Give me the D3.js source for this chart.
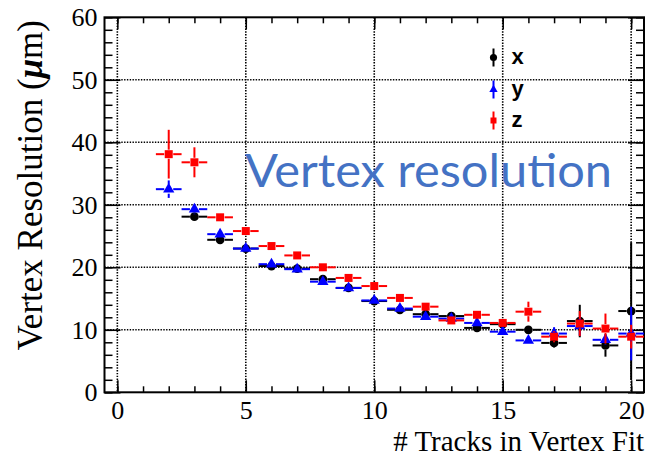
<!DOCTYPE html>
<html>
<head>
<meta charset="utf-8">
<script src="https://cdn.jsdelivr.net/npm/d3@7"></script>
<style>
  body { margin: 0; background: #fff; }
  svg { display: block; }
</style>
</head>
<body>
<div id="chart_div"></div>
<script>
/*************************************************
 * Description: vertex resolution vs track count *
 *************************************************/

/*
 * Data
 */
var gvTracksX = [3, 4, 5, 6, 7, 8, 9, 10, 11, 12, 13, 14, 15, 16, 17, 18, 19, 20];
var gvResX    = [28.1, 24.4, 23.0, 20.2, 19.8, 18.1, 16.7, 14.6, 13.2, 12.5, 12.2, 10.3, 10.9, 10.0, 7.9, 11.4, 7.5, 13.0];
var gvErrX    = [0.3, 0.3, 0.3, 0.3, 0.3, 0.3, 0.3, 0.3, 0.3, 0.3, 0.3, 0.4, 0.4, 0.7, 0.8, 2.6, 1.8, 11.0];

var gvTracksY = [2, 3, 4, 5, 6, 7, 8, 9, 10, 11, 12, 13, 14, 15, 16, 17, 18, 19, 20];
var gvResY    = [32.5, 29.3, 25.3, 23.0, 20.5, 19.7, 17.7, 16.7, 14.7, 13.4, 12.1, 11.8, 11.1, 9.7, 8.3, 9.4, 10.6, 8.4, 9.4];
var gvErrY    = [1.4, 0.8, 0.4, 0.3, 0.3, 0.3, 0.3, 0.3, 0.3, 0.3, 0.3, 0.3, 0.4, 0.4, 0.6, 1.0, 1.5, 0.8, 4.3];

var gvTracksZ = [2, 3, 4, 5, 6, 7, 8, 9, 10, 11, 12, 13, 14, 15, 16, 17, 18, 19, 20];
var gvResZ    = [38.1, 36.8, 28.0, 25.8, 23.4, 21.9, 20.0, 18.3, 17.0, 15.1, 13.7, 11.5, 12.4, 11.1, 12.9, 8.9, 11.0, 10.2, 8.9];
var gvErrZ    = [3.9, 2.4, 0.6, 0.6, 0.4, 0.4, 0.4, 0.4, 0.5, 0.5, 0.5, 0.4, 0.6, 0.7, 1.6, 0.9, 2.0, 2.4, 1.9];

var gvXMajor = [0, 5, 10, 15, 20];
var gvYMajor = [0, 10, 20, 30, 40, 50, 60];
var gvLegend = ['x', 'y', 'z'];

/*
 * Layout
 */
var gvWidth = 646, gvHeight = 458;
var gvFrame = {left: 104.5, right: 644, top: 17.3, bottom: 392.3};
var gvSerif = '"Liberation Serif", "Times New Roman", serif';

var svg = d3.select('#chart_div').append('svg')
  .attr('width', gvWidth)
  .attr('height', gvHeight);

var xScale = d3.scaleLinear().domain([-0.5, 20.5]).range([gvFrame.left, gvFrame.right]);
var yScale = d3.scaleLinear().domain([0, 60]).range([gvFrame.bottom, gvFrame.top]);

/*
 * Grid (dotted)
 */
var grid = svg.append('g')
  .attr('stroke', '#000')
  .attr('stroke-width', 1.6)
  .attr('stroke-dasharray', '1.4,1.4');

grid.selectAll('.gx').data(gvXMajor).enter().append('line')
  .attr('x1', function(d) { return xScale(d); })
  .attr('x2', function(d) { return xScale(d); })
  .attr('y1', gvFrame.top)
  .attr('y2', gvFrame.bottom);

grid.selectAll('.gy').data(gvYMajor.slice(1, -1)).enter().append('line')
  .attr('x1', gvFrame.left)
  .attr('x2', gvFrame.right)
  .attr('y1', function(d) { return yScale(d); })
  .attr('y2', function(d) { return yScale(d); });

/*
 * Axes
 */
var xMinor = d3.range(0, 21, 1);
var yMinor = d3.range(0, 61, 2);

function addAxis(pvAxis, pvTransform, pvLabels) {
  var g = svg.append('g')
    .attr('transform', pvTransform)
    .call(pvAxis);
  g.select('.domain').remove();
  g.selectAll('line').attr('stroke', '#000').attr('stroke-width', 1.5);
  g.selectAll('text')
    .attr('fill', '#000')
    .style('font-family', gvSerif)
    .style('font-size', '26px');
  if (!pvLabels) g.selectAll('text').remove();
  return g;
}

// bottom
addAxis(d3.axisBottom(xScale).tickValues(xMinor).tickSize(-6).tickFormat(''),
  'translate(0,' + gvFrame.bottom + ')', false);
addAxis(d3.axisBottom(xScale).tickValues(gvXMajor).tickSize(-12).tickPadding(8).tickFormat(d3.format('d')),
  'translate(0,' + gvFrame.bottom + ')', true);
// top
addAxis(d3.axisTop(xScale).tickValues(xMinor).tickSize(-6).tickFormat(''),
  'translate(0,' + gvFrame.top + ')', false);
addAxis(d3.axisTop(xScale).tickValues(gvXMajor).tickSize(-12).tickFormat(''),
  'translate(0,' + gvFrame.top + ')', false);
// left
addAxis(d3.axisLeft(yScale).tickValues(yMinor).tickSize(-8).tickFormat(''),
  'translate(' + gvFrame.left + ',0)', false);
addAxis(d3.axisLeft(yScale).tickValues(gvYMajor).tickSize(-16).tickPadding(7).tickFormat(d3.format('d')),
  'translate(' + gvFrame.left + ',0)', true);
// right
addAxis(d3.axisRight(yScale).tickValues(yMinor).tickSize(-8).tickFormat(''),
  'translate(' + gvFrame.right + ',0)', false);
addAxis(d3.axisRight(yScale).tickValues(gvYMajor).tickSize(-16).tickFormat(''),
  'translate(' + gvFrame.right + ',0)', false);

// frame
svg.append('rect')
  .attr('x', gvFrame.left)
  .attr('y', gvFrame.top)
  .attr('width', gvFrame.right - gvFrame.left)
  .attr('height', gvFrame.bottom - gvFrame.top)
  .attr('fill', 'none')
  .attr('stroke', '#000')
  .attr('stroke-width', 2);

/*
 * Series
 */
var symCircle = d3.symbol().type(d3.symbolCircle).size(60);
var symTriangle = d3.symbol().type(d3.symbolTriangle).size(55);
var symSquare = d3.symbol().type(d3.symbolSquare).size(64);

function drawSeries(pvTracks, pvRes, pvErr, pvColour, pvSymbol) {

  var lvGap = 4.5;
  var lvData = pvTracks.map(function(t, i) {
    return {t: t, v: pvRes[i], e: pvErr[i]};
  });

  var g = svg.append('g')
    .attr('stroke', pvColour)
    .attr('stroke-width', 2)
    .attr('fill', pvColour);

  var pts = g.selectAll('.pt').data(lvData).enter().append('g')
    .attr('class', 'pt');

  // horizontal error (bin width), split around the marker
  pts.append('line')
    .attr('x1', function(d) { return xScale(d.t - 0.5); })
    .attr('x2', function(d) { return xScale(d.t) - lvGap; })
    .attr('y1', function(d) { return yScale(d.v); })
    .attr('y2', function(d) { return yScale(d.v); });
  pts.append('line')
    .attr('x1', function(d) { return xScale(d.t) + lvGap; })
    .attr('x2', function(d) { return xScale(d.t + 0.5); })
    .attr('y1', function(d) { return yScale(d.v); })
    .attr('y2', function(d) { return yScale(d.v); });

  // vertical error
  pts.filter(function(d) { return yScale(d.v - d.e) - yScale(d.v) > lvGap; })
    .each(function(d) {
      var s = d3.select(this);
      s.append('line')
        .attr('x1', xScale(d.t)).attr('x2', xScale(d.t))
        .attr('y1', yScale(d.v + d.e)).attr('y2', yScale(d.v) - lvGap);
      s.append('line')
        .attr('x1', xScale(d.t)).attr('x2', xScale(d.t))
        .attr('y1', yScale(d.v) + lvGap).attr('y2', yScale(d.v - d.e));
    });

  pts.append('path')
    .attr('stroke', 'none')
    .attr('d', pvSymbol)
    .attr('transform', function(d) {
      return 'translate(' + xScale(d.t) + ',' + yScale(d.v) + ')';
    });
}

drawSeries(gvTracksX, gvResX, gvErrX, '#000000', symCircle);
drawSeries(gvTracksY, gvResY, gvErrY, '#0000ff', symTriangle);
drawSeries(gvTracksZ, gvResZ, gvErrZ, '#ff0000', symSquare);

/*
 * Legend
 */
var lvLegColours = ['#000000', '#0000ff', '#ff0000'];
var lvLegSymbols = [
  d3.symbol().type(d3.symbolCircle).size(40),
  d3.symbol().type(d3.symbolTriangle).size(30),
  d3.symbol().type(d3.symbolSquare).size(36)
];
var lvLegY = [57.5, 89.5, 120.5];

var leg = svg.append('g');
gvLegend.forEach(function(name, i) {
  var row = leg.append('g').attr('transform', 'translate(493.5,' + lvLegY[i] + ')');
  row.append('line')
    .attr('x1', 0).attr('x2', 0).attr('y1', -9).attr('y2', 9)
    .attr('stroke', lvLegColours[i]).attr('stroke-width', 2);
  row.append('path')
    .attr('d', lvLegSymbols[i])
    .attr('fill', lvLegColours[i]);
  row.append('text')
    .attr('x', 18)
    .attr('y', 6)
    .style('font-family', '"Liberation Sans", Arial, sans-serif')
    .style('font-weight', 'bold')
    .style('font-size', '22px')
    .attr('fill', '#000')
    .text(name);
});

/*
 * Titles
 */
svg.append('text')
  .attr('x', gvFrame.right)
  .attr('y', 451)
  .attr('text-anchor', 'end')
  .style('font-family', gvSerif)
  .style('font-size', '29px')
  .attr('fill', '#000')
  .text('# Tracks in Vertex Fit');

var yTitle = svg.append('text')
  .attr('transform', 'translate(42,20) rotate(-90)')
  .attr('text-anchor', 'end')
  .style('font-family', gvSerif)
  .style('font-size', '35px')
  .attr('fill', '#000');
yTitle.append('tspan').text('Vertex Resolution (');
yTitle.append('tspan').style('font-style', 'italic').style('font-weight', 'bold').text('\u03bc');
yTitle.append('tspan').text('m)');

// overlay caption
svg.append('text')
  .attr('x', 245)
  .attr('y', 187)
  .attr('textLength', 367)
  .attr('lengthAdjust', 'spacingAndGlyphs')
  .style('font-family', 'Lato, "Open Sans", sans-serif')
  .style('font-size', '46px')
  .attr('fill', '#4472c4')
  .text('Vertex resolution');
</script>
</body>
</html>
